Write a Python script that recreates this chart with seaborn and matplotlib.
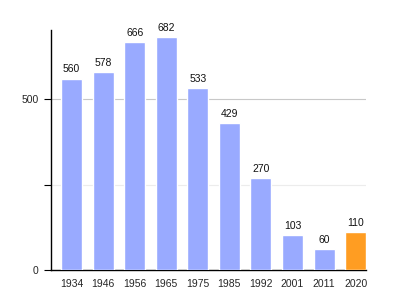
import matplotlib
matplotlib.use("Agg")
import matplotlib.pyplot as plt
import seaborn as sns
import pandas as pd

years = ["1934", "1946", "1956", "1965", "1975", "1985", "1992", "2001", "2011", "2020"]
values = [560, 578, 666, 682, 533, 429, 270, 103, 60, 110]
colors = ["#99aaff"] * 9 + ["#ff9d22"]

sns.set_style("white")
plt.rcParams["font.family"] = ["Liberation Sans", "DejaVu Sans"]

df = pd.DataFrame({"year": years, "value": values})

fig = plt.figure(figsize=(3.95, 3.0), dpi=100)
ax = fig.add_axes([51 / 395, 0.1, (366 - 51) / 395, 0.8])

sns.barplot(data=df, x="year", y="value", hue="year", palette=colors,
            legend=False, width=0.665, saturation=1, ax=ax, zorder=3)

ax.set_xlim(-0.65, 9.33)
ax.set_ylim(0, 702)
ax.set_yticks([0, 500])
ax.set_yticks([250], minor=True)
ax.axhline(500, color="#c8c8c8", lw=0.8, zorder=1)
ax.axhline(250, color="#ececec", lw=0.8, zorder=1)

for i, v in enumerate(values):
    ax.text(i, v + 12, str(v), ha="center", va="bottom", fontsize=7.5, color="#111111")

for s in ["top", "right"]:
    ax.spines[s].set_visible(False)
ax.spines["left"].set_color("black")
ax.spines["bottom"].set_color("black")
ax.spines["left"].set_linewidth(1)
ax.spines["bottom"].set_linewidth(1)

ax.tick_params(axis="y", which="both", left=True, length=5, width=0.8, color="black",
               labelsize=7.5, pad=4)
ax.tick_params(axis="x", bottom=False, labelsize=7.5, pad=3)
ax.set_xlabel("")
ax.set_ylabel("")

fig.savefig("out.png", dpi=100)
